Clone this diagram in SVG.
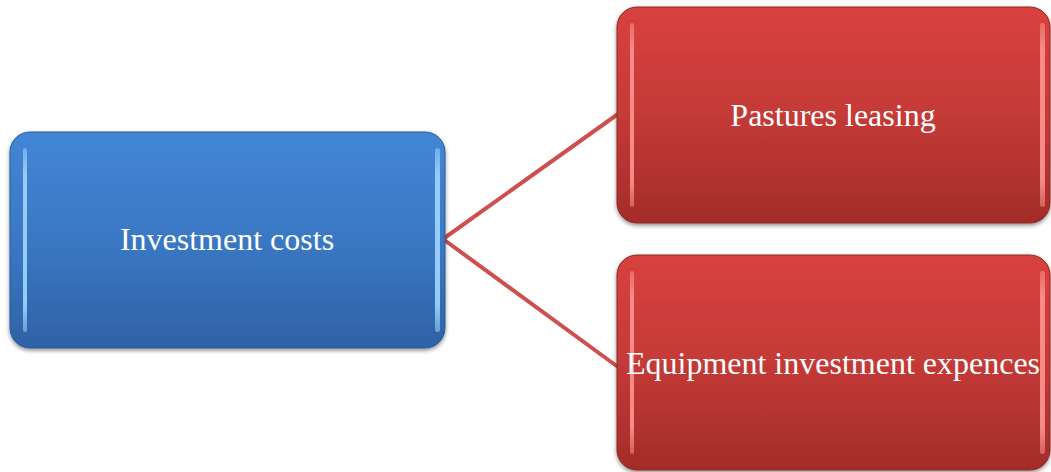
<svg xmlns="http://www.w3.org/2000/svg" width="1051" height="472" viewBox="0 0 1051 472">
<style>
.lbl{font-family:"Liberation Serif","Times New Roman",serif;font-size:32px;fill:#ffffff;text-anchor:middle}
.conn{stroke:#cd4f4e;stroke-width:4;fill:none;stroke-linecap:round}
.hb{fill:url(#vBlue)}
.hr{fill:url(#vRed)}
</style>
<defs>
<linearGradient id="gBlue" x1="0" y1="0" x2="0" y2="1">
<stop offset="0" stop-color="#4286d6"/>
<stop offset="0.5" stop-color="#3a78c4"/>
<stop offset="1" stop-color="#2e62a5"/>
</linearGradient>
<linearGradient id="gRed" x1="0" y1="0" x2="0" y2="1">
<stop offset="0" stop-color="#d8423f"/>
<stop offset="0.5" stop-color="#c43a37"/>
<stop offset="1" stop-color="#a32c2a"/>
</linearGradient>
<linearGradient id="vBlue" x1="0" y1="0" x2="0" y2="1">
<stop offset="0" stop-color="#9fd6ff" stop-opacity="0.5"/>
<stop offset="0.15" stop-color="#9fd6ff" stop-opacity="0.9"/>
<stop offset="0.85" stop-color="#9fd6ff" stop-opacity="0.9"/>
<stop offset="1" stop-color="#9fd6ff" stop-opacity="0.5"/>
</linearGradient>
<linearGradient id="vRed" x1="0" y1="0" x2="0" y2="1">
<stop offset="0" stop-color="#ff9490" stop-opacity="0.5"/>
<stop offset="0.15" stop-color="#ff9490" stop-opacity="0.9"/>
<stop offset="0.85" stop-color="#ff9490" stop-opacity="0.9"/>
<stop offset="1" stop-color="#ff9490" stop-opacity="0.5"/>
</linearGradient>
<filter id="sh" x="-5%" y="-5%" width="110%" height="115%">
<feGaussianBlur in="SourceAlpha" stdDeviation="2"/>
<feOffset dx="0" dy="2" result="b"/>
<feComponentTransfer><feFuncA type="linear" slope="0.45"/></feComponentTransfer>
<feMerge><feMergeNode/><feMergeNode in="SourceGraphic"/></feMerge>
</filter>
</defs>
<g id="connectors">
<line class="conn" x1="443" y1="239" x2="618" y2="114"/>
<line class="conn" x1="443" y1="239" x2="618" y2="367"/>
</g>
<g id="node-investment">
<rect x="10" y="132" width="435" height="216" rx="20" fill="url(#gBlue)" stroke="#2a5a98" stroke-width="1" filter="url(#sh)"/>
<rect class="hb" x="23" y="148" width="4" height="184" rx="2"/>
<rect class="hb" x="435" y="148" width="5" height="184" rx="2.5"/>
<text class="lbl" x="227" y="250">Investment costs</text>
</g>
<g id="node-pastures">
<rect x="617" y="7" width="433" height="216" rx="20" fill="url(#gRed)" stroke="#8f2826" stroke-width="1" filter="url(#sh)"/>
<rect class="hr" x="630" y="23" width="4" height="184" rx="2"/>
<rect class="hr" x="1040" y="23" width="5" height="184" rx="2.5"/>
<text class="lbl" x="833" y="126">Pastures leasing</text>
</g>
<g id="node-equipment">
<rect x="617" y="255" width="433" height="215" rx="20" fill="url(#gRed)" stroke="#8f2826" stroke-width="1" filter="url(#sh)"/>
<rect class="hr" x="630" y="271" width="4" height="183" rx="2"/>
<rect class="hr" x="1040" y="271" width="5" height="183" rx="2.5"/>
<text class="lbl" x="833" y="374">Equipment investment expences</text>
</g>
</svg>
